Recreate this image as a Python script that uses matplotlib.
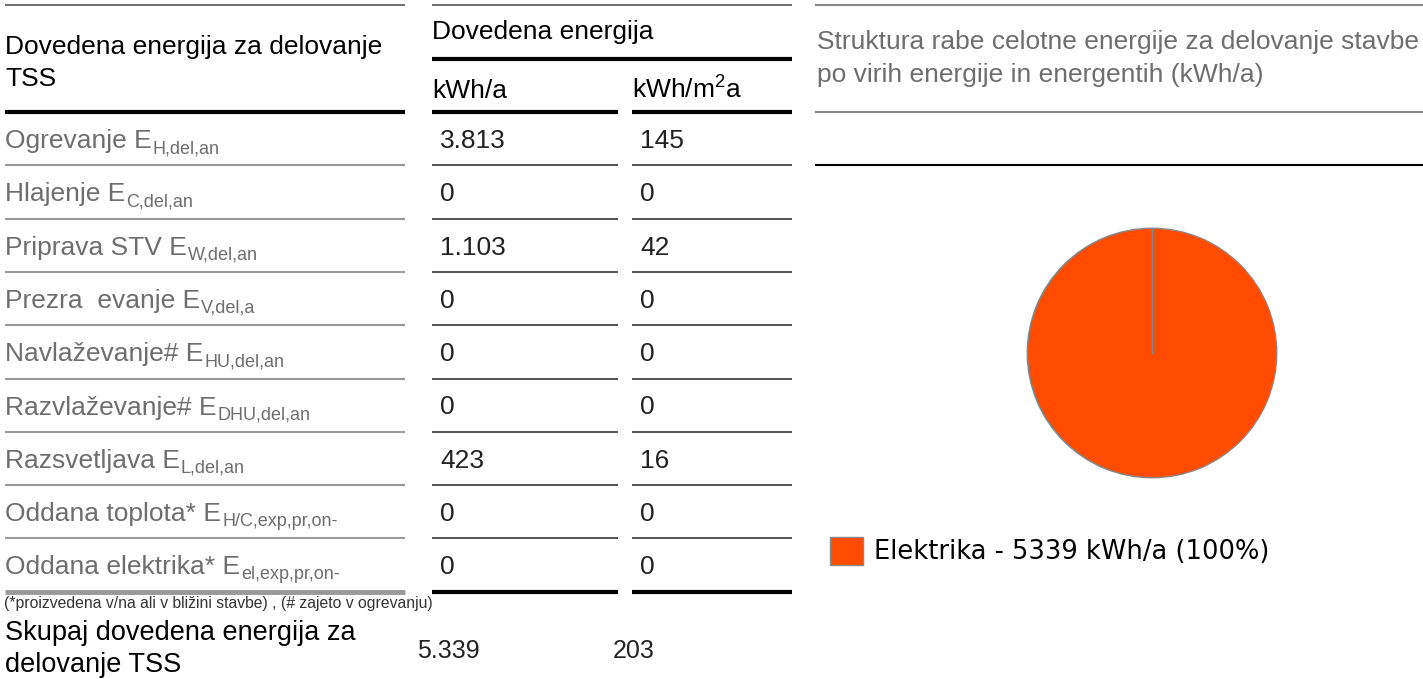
import matplotlib
matplotlib.use("Agg")
import matplotlib.pyplot as plt
from matplotlib.patches import Patch

plt.rcParams['font.family'] = ['Liberation Sans', 'DejaVu Sans']

# table data
row_names = ["Ogrevanje", "Hlajenje", "Priprava STV", "Prezra  evanje", "Navlaževanje#",
             "Razvlaževanje#", "Razsvetljava", "Oddana toplota*", "Oddana elektrika*"]
row_subs = ["H,del,an", "C,del,an", "W,del,an", "V,del,a", "HU,del,an",
            "DHU,del,an", "L,del,an", "H/C,exp,pr,on-", "el,exp,pr,on-"]
kwh_a = ["3.813", "0", "1.103", "0", "0", "0", "423", "0", "0"]
kwh_m2a = ["145", "0", "42", "0", "0", "0", "16", "0", "0"]
total_kwh_a = "5.339"
total_kwh_m2a = "203"

# pie data
pie_labels = ["Elektrika"]
pie_values = [5339]
pie_colors = ["#ff4c00"]

W, H = 1423, 679
fig = plt.figure(figsize=(W / 100, H / 100), dpi=100)
ax = fig.add_axes([0, 0, 1, 1])
ax.set_xlim(0, W)
ax.set_ylim(H, 0)
ax.axis("off")

label_col = "#6e6e6e"
val_col = "#222222"

# --- left block: header
ax.hlines(5, 5, 405, color="#555555", lw=1.2)
ax.text(5, 54, "Dovedena energija za delovanje", fontsize=19, color="black", va="baseline")
ax.text(5, 86, "TSS", fontsize=19, color="black", va="baseline")
ax.hlines(112, 5, 405, color="black", lw=3)

# --- middle block: header
ax.hlines(5, 432, 792, color="#555555", lw=1.2)
ax.text(432, 39, "Dovedena energija", fontsize=19, color="black", va="baseline")
ax.hlines(59, 432, 792, color="black", lw=3)
ax.text(432, 98, "kWh/a", fontsize=19, color="black", va="baseline")
ax.text(632, 98, r"kWh/m$^{\mathregular{2}}$a", fontsize=19, color="black", va="baseline")
ax.hlines(112, 432, 618, color="black", lw=3)
ax.hlines(112, 632, 792, color="black", lw=3)

# --- rows
row_h = 53.3
top = 112
fig.canvas.draw()
renderer = fig.canvas.get_renderer()
for i, (name, sub, v1, v2) in enumerate(zip(row_names, row_subs, kwh_a, kwh_m2a)):
    y0 = top + i * row_h
    t = ax.text(5, y0 + 36, name + " E", fontsize=19, color=label_col, va="baseline")
    bb = t.get_window_extent(renderer)
    x_end = ax.transData.inverted().transform((bb.x1, bb.y0))[0]
    ax.text(x_end + 1, y0 + 41, sub, fontsize=13, color=label_col, va="baseline")
    ax.text(440, y0 + 36, v1, fontsize=19, color=val_col, va="baseline")
    ax.text(640, y0 + 36, v2, fontsize=19, color=val_col, va="baseline")
    yb = top + (i + 1) * row_h
    last = i == len(row_names) - 1
    ax.hlines(yb, 5, 405, color="#999999", lw=3.5 if last else 1.5)
    ax.hlines(yb, 432, 618, color="black" if last else "#444444", lw=3 if last else 1.3)
    ax.hlines(yb, 632, 792, color="black" if last else "#444444", lw=3 if last else 1.3)

# --- footnote and total
ax.text(4, 608, "(*proizvedena v/na ali v bližini stavbe) , (# zajeto v ogrevanju)",
        fontsize=11.3, color="#333333", va="baseline")
ax.text(5, 640, "Skupaj dovedena energija za", fontsize=19.5, color="black", va="baseline")
ax.text(5, 672, "delovanje TSS", fontsize=19.5, color="black", va="baseline")
ax.text(417, 658, total_kwh_a, fontsize=18, color=val_col, va="baseline")
ax.text(613, 658, total_kwh_m2a, fontsize=18, color=val_col, va="baseline")

# --- right block
ax.hlines(5, 815, W, color="#888888", lw=1.5)
ax.text(817, 49, "Struktura rabe celotne energije za delovanje stavbe", fontsize=19,
        color="#6e6e6e", va="baseline")
ax.text(817, 82, "po virih energije in energentih (kWh/a)", fontsize=19,
        color="#6e6e6e", va="baseline")
ax.hlines(112, 815, W, color="#888888", lw=1.5)
ax.hlines(165, 815, W, color="black", lw=1.5)

# pie
cx, cy, r = 1152, 353, 126
pax = fig.add_axes([(cx - r) / W, 1 - (cy + r) / H, 2 * r / W, 2 * r / H])
pax.pie(pie_values, colors=pie_colors, startangle=90, counterclock=False,
        wedgeprops=dict(edgecolor="#888888", linewidth=1))
pax.plot([0, 0], [0, 1], color="#888888", lw=1)
pax.set_xlim(-1.01, 1.01)
pax.set_ylim(-1.01, 1.01)

total = sum(pie_values)
handles = [Patch(facecolor=c, edgecolor="#888888", lw=1) for c in pie_colors]
labels = [f"{n} - {v} kWh/a ({round(100 * v / total)}%)" for n, v in zip(pie_labels, pie_values)]
fig.legend(handles, labels, loc="upper left", bbox_to_anchor=(812 / W, 1 - 519 / H),
           frameon=False, prop=dict(family="DejaVu Sans", size=18.5),
           handlelength=1.28, handleheight=1.28, handletextpad=0.43, borderpad=0.2)

fig.savefig("out.png", dpi=100)
